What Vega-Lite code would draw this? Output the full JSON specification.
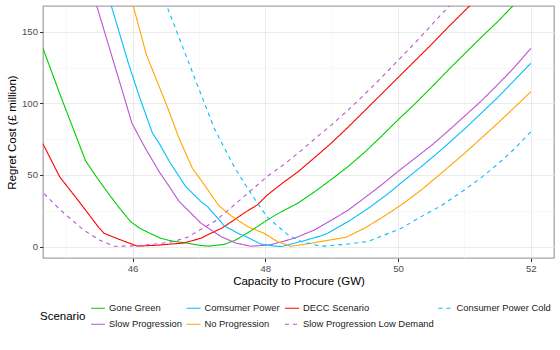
{
  "$schema": "https://vega.github.io/schema/vega-lite/v6.json",
  "autosize": {"type": "none"},
  "width": 511,
  "height": 252,
  "padding": {"left": 43, "top": 6, "right": 6, "bottom": 92},
  "background": "white",
  "config": {
    "font": "Liberation Sans",
    "view": {"stroke": "#a6a6a6", "strokeWidth": 1.3},
    "axis": {
      "domain": false,
      "labelFont": "Liberation Sans",
      "labelFontSize": 9.6,
      "labelColor": "#4d4d4d",
      "tickColor": "#333333",
      "tickSize": 3.5,
      "tickWidth": 1,
      "labelPadding": 2,
      "titleFont": "Liberation Sans",
      "titleFontSize": 11.5,
      "titleFontWeight": "normal",
      "titleColor": "#000000"
    },
    "legend": {
      "labelFont": "Liberation Sans",
      "titleFont": "Liberation Sans"
    }
  },
  "data": {
    "values": [
      {"scenario": "Gone Green", "capacity": 44.5, "cost": 157},
      {"scenario": "Gone Green", "capacity": 44.65, "cost": 138.4},
      {"scenario": "Gone Green", "capacity": 44.9, "cost": 107},
      {"scenario": "Gone Green", "capacity": 45.1, "cost": 83},
      {"scenario": "Gone Green", "capacity": 45.29, "cost": 60},
      {"scenario": "Gone Green", "capacity": 45.45, "cost": 49},
      {"scenario": "Gone Green", "capacity": 45.62, "cost": 38},
      {"scenario": "Gone Green", "capacity": 45.8, "cost": 27},
      {"scenario": "Gone Green", "capacity": 45.97, "cost": 17.4},
      {"scenario": "Gone Green", "capacity": 46.1, "cost": 13},
      {"scenario": "Gone Green", "capacity": 46.25, "cost": 9.5},
      {"scenario": "Gone Green", "capacity": 46.42, "cost": 5.8},
      {"scenario": "Gone Green", "capacity": 46.6, "cost": 3.8},
      {"scenario": "Gone Green", "capacity": 46.8, "cost": 2.5},
      {"scenario": "Gone Green", "capacity": 47.03, "cost": 0.7},
      {"scenario": "Gone Green", "capacity": 47.15, "cost": 0.3},
      {"scenario": "Gone Green", "capacity": 47.38, "cost": 1.5},
      {"scenario": "Gone Green", "capacity": 47.55, "cost": 4.5},
      {"scenario": "Gone Green", "capacity": 47.73, "cost": 9.5},
      {"scenario": "Gone Green", "capacity": 47.9, "cost": 14.5},
      {"scenario": "Gone Green", "capacity": 48.03, "cost": 18.6},
      {"scenario": "Gone Green", "capacity": 48.25, "cost": 24.5},
      {"scenario": "Gone Green", "capacity": 48.49, "cost": 30.3},
      {"scenario": "Gone Green", "capacity": 48.75, "cost": 38.5},
      {"scenario": "Gone Green", "capacity": 49.0, "cost": 47},
      {"scenario": "Gone Green", "capacity": 49.25, "cost": 56},
      {"scenario": "Gone Green", "capacity": 49.5, "cost": 66},
      {"scenario": "Gone Green", "capacity": 49.75, "cost": 77},
      {"scenario": "Gone Green", "capacity": 50.0, "cost": 88.5},
      {"scenario": "Gone Green", "capacity": 50.25, "cost": 99.5},
      {"scenario": "Gone Green", "capacity": 50.5, "cost": 111},
      {"scenario": "Gone Green", "capacity": 50.75, "cost": 123},
      {"scenario": "Gone Green", "capacity": 51.0, "cost": 134.5},
      {"scenario": "Gone Green", "capacity": 51.25, "cost": 146},
      {"scenario": "Gone Green", "capacity": 51.5, "cost": 157},
      {"scenario": "Gone Green", "capacity": 51.75, "cost": 169},
      {"scenario": "Gone Green", "capacity": 52.0, "cost": 181},

      {"scenario": "DECC Scenario", "capacity": 44.5, "cost": 85},
      {"scenario": "DECC Scenario", "capacity": 44.65, "cost": 71.7},
      {"scenario": "DECC Scenario", "capacity": 44.9, "cost": 48.8},
      {"scenario": "DECC Scenario", "capacity": 45.2, "cost": 31},
      {"scenario": "DECC Scenario", "capacity": 45.49, "cost": 13.3},
      {"scenario": "DECC Scenario", "capacity": 45.57, "cost": 9.3},
      {"scenario": "DECC Scenario", "capacity": 45.8, "cost": 5},
      {"scenario": "DECC Scenario", "capacity": 46.07, "cost": 0.3},
      {"scenario": "DECC Scenario", "capacity": 46.4, "cost": 1},
      {"scenario": "DECC Scenario", "capacity": 46.77, "cost": 2.5},
      {"scenario": "DECC Scenario", "capacity": 47.03, "cost": 5.8},
      {"scenario": "DECC Scenario", "capacity": 47.18, "cost": 9.3},
      {"scenario": "DECC Scenario", "capacity": 47.35, "cost": 13},
      {"scenario": "DECC Scenario", "capacity": 47.53, "cost": 18.6},
      {"scenario": "DECC Scenario", "capacity": 47.7, "cost": 24},
      {"scenario": "DECC Scenario", "capacity": 47.88, "cost": 29.1},
      {"scenario": "DECC Scenario", "capacity": 48.03, "cost": 36},
      {"scenario": "DECC Scenario", "capacity": 48.25, "cost": 44},
      {"scenario": "DECC Scenario", "capacity": 48.5, "cost": 52.5},
      {"scenario": "DECC Scenario", "capacity": 48.84, "cost": 66},
      {"scenario": "DECC Scenario", "capacity": 49.0, "cost": 72.5},
      {"scenario": "DECC Scenario", "capacity": 49.25, "cost": 83.5},
      {"scenario": "DECC Scenario", "capacity": 49.5, "cost": 95},
      {"scenario": "DECC Scenario", "capacity": 49.75, "cost": 106.5},
      {"scenario": "DECC Scenario", "capacity": 50.0, "cost": 118},
      {"scenario": "DECC Scenario", "capacity": 50.25, "cost": 129.5},
      {"scenario": "DECC Scenario", "capacity": 50.5, "cost": 141},
      {"scenario": "DECC Scenario", "capacity": 50.75, "cost": 153},
      {"scenario": "DECC Scenario", "capacity": 51.0, "cost": 164.5},
      {"scenario": "DECC Scenario", "capacity": 51.25, "cost": 176},
      {"scenario": "DECC Scenario", "capacity": 51.5, "cost": 188},

      {"scenario": "Slow Progression Low Demand", "capacity": 44.5, "cost": 45},
      {"scenario": "Slow Progression Low Demand", "capacity": 44.65, "cost": 37.7},
      {"scenario": "Slow Progression Low Demand", "capacity": 44.91, "cost": 25.6},
      {"scenario": "Slow Progression Low Demand", "capacity": 45.26, "cost": 11.6},
      {"scenario": "Slow Progression Low Demand", "capacity": 45.5, "cost": 4.5},
      {"scenario": "Slow Progression Low Demand", "capacity": 45.72, "cost": 0.2},
      {"scenario": "Slow Progression Low Demand", "capacity": 46.07, "cost": 0.5},
      {"scenario": "Slow Progression Low Demand", "capacity": 46.37, "cost": 1.9},
      {"scenario": "Slow Progression Low Demand", "capacity": 46.6, "cost": 3.3},
      {"scenario": "Slow Progression Low Demand", "capacity": 46.83, "cost": 6.5},
      {"scenario": "Slow Progression Low Demand", "capacity": 47.03, "cost": 12},
      {"scenario": "Slow Progression Low Demand", "capacity": 47.25, "cost": 18},
      {"scenario": "Slow Progression Low Demand", "capacity": 47.53, "cost": 29},
      {"scenario": "Slow Progression Low Demand", "capacity": 47.78, "cost": 39},
      {"scenario": "Slow Progression Low Demand", "capacity": 48.03, "cost": 49},
      {"scenario": "Slow Progression Low Demand", "capacity": 48.3, "cost": 58},
      {"scenario": "Slow Progression Low Demand", "capacity": 48.54, "cost": 67},
      {"scenario": "Slow Progression Low Demand", "capacity": 48.84, "cost": 79},
      {"scenario": "Slow Progression Low Demand", "capacity": 49.0, "cost": 85},
      {"scenario": "Slow Progression Low Demand", "capacity": 49.25, "cost": 95.5},
      {"scenario": "Slow Progression Low Demand", "capacity": 49.5, "cost": 106.5},
      {"scenario": "Slow Progression Low Demand", "capacity": 49.75, "cost": 118},
      {"scenario": "Slow Progression Low Demand", "capacity": 50.0, "cost": 130},
      {"scenario": "Slow Progression Low Demand", "capacity": 50.25, "cost": 142},
      {"scenario": "Slow Progression Low Demand", "capacity": 50.5, "cost": 154.5},
      {"scenario": "Slow Progression Low Demand", "capacity": 50.75, "cost": 167},
      {"scenario": "Slow Progression Low Demand", "capacity": 51.0, "cost": 179.5},

      {"scenario": "Slow Progression", "capacity": 45.3, "cost": 195},
      {"scenario": "Slow Progression", "capacity": 45.46, "cost": 168},
      {"scenario": "Slow Progression", "capacity": 45.7, "cost": 131},
      {"scenario": "Slow Progression", "capacity": 45.85, "cost": 108},
      {"scenario": "Slow Progression", "capacity": 45.99, "cost": 86.1},
      {"scenario": "Slow Progression", "capacity": 46.2, "cost": 68},
      {"scenario": "Slow Progression", "capacity": 46.4, "cost": 52.3},
      {"scenario": "Slow Progression", "capacity": 46.57, "cost": 40.7},
      {"scenario": "Slow Progression", "capacity": 46.7, "cost": 31.5},
      {"scenario": "Slow Progression", "capacity": 46.88, "cost": 23.3},
      {"scenario": "Slow Progression", "capacity": 47.03, "cost": 16.3},
      {"scenario": "Slow Progression", "capacity": 47.33, "cost": 7},
      {"scenario": "Slow Progression", "capacity": 47.55, "cost": 2.5},
      {"scenario": "Slow Progression", "capacity": 47.78, "cost": 0.2},
      {"scenario": "Slow Progression", "capacity": 48.08, "cost": 1.2},
      {"scenario": "Slow Progression", "capacity": 48.44, "cost": 5.8},
      {"scenario": "Slow Progression", "capacity": 48.74, "cost": 11.6},
      {"scenario": "Slow Progression", "capacity": 49.0, "cost": 18.5},
      {"scenario": "Slow Progression", "capacity": 49.25, "cost": 25.5},
      {"scenario": "Slow Progression", "capacity": 49.49, "cost": 33.8},
      {"scenario": "Slow Progression", "capacity": 49.75, "cost": 43},
      {"scenario": "Slow Progression", "capacity": 50.0, "cost": 52.5},
      {"scenario": "Slow Progression", "capacity": 50.25, "cost": 61.5},
      {"scenario": "Slow Progression", "capacity": 50.5, "cost": 70.5},
      {"scenario": "Slow Progression", "capacity": 50.75, "cost": 80.5},
      {"scenario": "Slow Progression", "capacity": 51.0, "cost": 91},
      {"scenario": "Slow Progression", "capacity": 51.25, "cost": 101.5},
      {"scenario": "Slow Progression", "capacity": 51.5, "cost": 113},
      {"scenario": "Slow Progression", "capacity": 51.75, "cost": 125},
      {"scenario": "Slow Progression", "capacity": 52.0, "cost": 138.4},

      {"scenario": "Comsumer Power", "capacity": 45.5, "cost": 200},
      {"scenario": "Comsumer Power", "capacity": 45.68, "cost": 168},
      {"scenario": "Comsumer Power", "capacity": 45.93, "cost": 129},
      {"scenario": "Comsumer Power", "capacity": 46.1, "cost": 105},
      {"scenario": "Comsumer Power", "capacity": 46.3, "cost": 79.1},
      {"scenario": "Comsumer Power", "capacity": 46.4, "cost": 72.1},
      {"scenario": "Comsumer Power", "capacity": 46.57, "cost": 58.2},
      {"scenario": "Comsumer Power", "capacity": 46.8, "cost": 41.9},
      {"scenario": "Comsumer Power", "capacity": 47.03, "cost": 31.4},
      {"scenario": "Comsumer Power", "capacity": 47.13, "cost": 27.9},
      {"scenario": "Comsumer Power", "capacity": 47.38, "cost": 14.5},
      {"scenario": "Comsumer Power", "capacity": 47.6, "cost": 9},
      {"scenario": "Comsumer Power", "capacity": 47.73, "cost": 6.5},
      {"scenario": "Comsumer Power", "capacity": 47.93, "cost": 1.8},
      {"scenario": "Comsumer Power", "capacity": 48.1, "cost": 0.5},
      {"scenario": "Comsumer Power", "capacity": 48.24, "cost": 0},
      {"scenario": "Comsumer Power", "capacity": 48.54, "cost": 3.5},
      {"scenario": "Comsumer Power", "capacity": 48.84, "cost": 7.5},
      {"scenario": "Comsumer Power", "capacity": 48.94, "cost": 9.3},
      {"scenario": "Comsumer Power", "capacity": 49.25, "cost": 17.5},
      {"scenario": "Comsumer Power", "capacity": 49.59, "cost": 27.9},
      {"scenario": "Comsumer Power", "capacity": 49.85, "cost": 37},
      {"scenario": "Comsumer Power", "capacity": 50.1, "cost": 46.5},
      {"scenario": "Comsumer Power", "capacity": 50.35, "cost": 55.8},
      {"scenario": "Comsumer Power", "capacity": 50.65, "cost": 67.5},
      {"scenario": "Comsumer Power", "capacity": 51.0, "cost": 82},
      {"scenario": "Comsumer Power", "capacity": 51.25, "cost": 93},
      {"scenario": "Comsumer Power", "capacity": 51.5, "cost": 104},
      {"scenario": "Comsumer Power", "capacity": 51.75, "cost": 116},
      {"scenario": "Comsumer Power", "capacity": 52.0, "cost": 128},

      {"scenario": "No Progression", "capacity": 45.85, "cost": 200},
      {"scenario": "No Progression", "capacity": 46.01, "cost": 168},
      {"scenario": "No Progression", "capacity": 46.21, "cost": 133.7},
      {"scenario": "No Progression", "capacity": 46.52, "cost": 98},
      {"scenario": "No Progression", "capacity": 46.7, "cost": 75.6},
      {"scenario": "No Progression", "capacity": 46.9, "cost": 54.7},
      {"scenario": "No Progression", "capacity": 47.03, "cost": 46.5},
      {"scenario": "No Progression", "capacity": 47.3, "cost": 28.5},
      {"scenario": "No Progression", "capacity": 47.5, "cost": 21},
      {"scenario": "No Progression", "capacity": 47.73, "cost": 14},
      {"scenario": "No Progression", "capacity": 47.98, "cost": 9.3},
      {"scenario": "No Progression", "capacity": 48.18, "cost": 3.5},
      {"scenario": "No Progression", "capacity": 48.38, "cost": 0.2},
      {"scenario": "No Progression", "capacity": 48.54, "cost": 1.2},
      {"scenario": "No Progression", "capacity": 48.84, "cost": 3.5},
      {"scenario": "No Progression", "capacity": 49.22, "cost": 6.5},
      {"scenario": "No Progression", "capacity": 49.5, "cost": 13},
      {"scenario": "No Progression", "capacity": 49.75, "cost": 20},
      {"scenario": "No Progression", "capacity": 50.05, "cost": 29.1},
      {"scenario": "No Progression", "capacity": 50.35, "cost": 39.5},
      {"scenario": "No Progression", "capacity": 50.65, "cost": 51.2},
      {"scenario": "No Progression", "capacity": 51.0, "cost": 65},
      {"scenario": "No Progression", "capacity": 51.25, "cost": 75.5},
      {"scenario": "No Progression", "capacity": 51.5, "cost": 86},
      {"scenario": "No Progression", "capacity": 51.75, "cost": 97},
      {"scenario": "No Progression", "capacity": 52.0, "cost": 108.1},

      {"scenario": "Consumer Power Cold", "capacity": 46.4, "cost": 182},
      {"scenario": "Consumer Power Cold", "capacity": 46.52, "cost": 167.5},
      {"scenario": "Consumer Power Cold", "capacity": 46.75, "cost": 140},
      {"scenario": "Consumer Power Cold", "capacity": 47.0, "cost": 110},
      {"scenario": "Consumer Power Cold", "capacity": 47.23, "cost": 82.6},
      {"scenario": "Consumer Power Cold", "capacity": 47.53, "cost": 55.8},
      {"scenario": "Consumer Power Cold", "capacity": 47.78, "cost": 37.2},
      {"scenario": "Consumer Power Cold", "capacity": 48.03, "cost": 20.5},
      {"scenario": "Consumer Power Cold", "capacity": 48.34, "cost": 8.2},
      {"scenario": "Consumer Power Cold", "capacity": 48.54, "cost": 3.5},
      {"scenario": "Consumer Power Cold", "capacity": 48.84, "cost": 0.2},
      {"scenario": "Consumer Power Cold", "capacity": 49.2, "cost": 1.5},
      {"scenario": "Consumer Power Cold", "capacity": 49.55, "cost": 3.5},
      {"scenario": "Consumer Power Cold", "capacity": 50.05, "cost": 12.8},
      {"scenario": "Consumer Power Cold", "capacity": 50.35, "cost": 20.9},
      {"scenario": "Consumer Power Cold", "capacity": 50.65, "cost": 28.5},
      {"scenario": "Consumer Power Cold", "capacity": 51.0, "cost": 39.5},
      {"scenario": "Consumer Power Cold", "capacity": 51.25, "cost": 48},
      {"scenario": "Consumer Power Cold", "capacity": 51.5, "cost": 57.5},
      {"scenario": "Consumer Power Cold", "capacity": 51.75, "cost": 68},
      {"scenario": "Consumer Power Cold", "capacity": 52.0, "cost": 80.2}
    ]
  },
  "mark": {"type": "line", "clip": true, "strokeWidth": 1.1},
  "encoding": {
    "x": {
      "field": "capacity",
      "type": "quantitative",
      "title": "Capacity to Procure (GW)",
      "scale": {"domain": [44.65, 52.35], "nice": false, "zero": false},
      "axis": {
        "values": [45, 46, 47, 48, 49, 50, 51, 52],
        "labelExpr": "datum.value % 2 == 0 ? datum.label : ''",
        "tickOpacity": {"condition": {"test": "datum.value % 2 == 1", "value": 0}, "value": 1},
        "gridColor": {"condition": {"test": "datum.value % 2 == 1", "value": "#f3f3f3"}, "value": "#ebebeb"},
        "gridWidth": {"condition": {"test": "datum.value % 2 == 1", "value": 0.6}, "value": 1},
        "titlePadding": 2
      }
    },
    "y": {
      "field": "cost",
      "type": "quantitative",
      "title": "Regret Cost (£ million)",
      "scale": {"domain": [-8, 168], "nice": false, "zero": false},
      "axis": {
        "values": [0, 25, 50, 75, 100, 125, 150],
        "labelExpr": "datum.value % 50 == 0 ? datum.label : ''",
        "tickOpacity": {"condition": {"test": "datum.value % 50 != 0", "value": 0}, "value": 1},
        "gridColor": {"condition": {"test": "datum.value % 50 != 0", "value": "#f3f3f3"}, "value": "#ebebeb"},
        "gridWidth": {"condition": {"test": "datum.value % 50 != 0", "value": 0.6}, "value": 1},
        "titlePadding": 4
      }
    },
    "color": {
      "field": "scenario",
      "type": "nominal",
      "title": "Scenario",
      "scale": {
        "domain": ["Gone Green", "Comsumer Power", "DECC Scenario", "Consumer Power Cold", "Slow Progression", "No Progression", "Slow Progression Low Demand"],
        "range": ["#00cd00", "#00bfff", "#ff0000", "#00bfff", "#ba55d3", "#ffa500", "#ba55d3"]
      },
      "legend": {
        "orient": "none",
        "legendX": -3,
        "legendY": 294,
        "direction": "horizontal",
        "columns": 4,
        "padding": 0,
        "titleOrient": "left",
        "titleAnchor": "middle",
        "titleBaseline": "line-top",
        "titleLineHeight": 6,
        "titleFontSize": 11.5,
        "titleFontWeight": "normal",
        "titleColor": "#000000",
        "titlePadding": 4,
        "labelFontSize": 9.4,
        "labelColor": "#1a1a1a",
        "labelOffset": 3,
        "columnPadding": 1.5,
        "rowPadding": 3.3,
        "symbolType": "stroke",
        "symbolSize": 196,
        "symbolStrokeWidth": 1.1
      }
    },
    "strokeDash": {
      "field": "scenario",
      "type": "nominal",
      "title": "Scenario",
      "scale": {
        "domain": ["Gone Green", "Comsumer Power", "DECC Scenario", "Consumer Power Cold", "Slow Progression", "No Progression", "Slow Progression Low Demand"],
        "range": [[1, 0], [1, 0], [1, 0], [4, 4], [1, 0], [1, 0], [4, 4]]
      }
    }
  }
}
